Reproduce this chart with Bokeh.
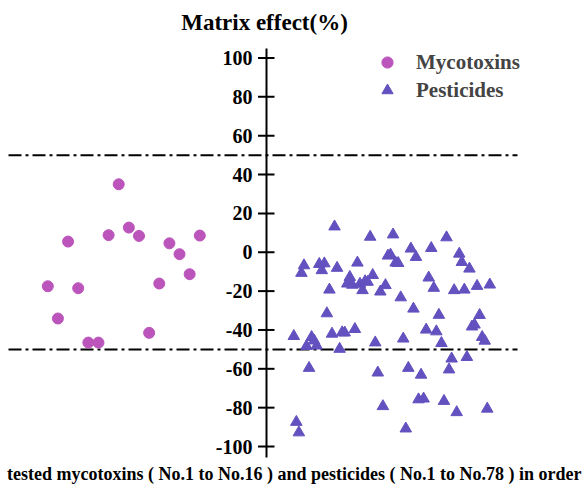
from bokeh.plotting import figure
from bokeh.models import Range1d, Legend, LegendItem, ColumnDataSource
from bokeh.embed import file_html
from bokeh.resources import INLINE
from bokeh.core.properties import value

# ---------------- data ----------------
mycotoxin_values = [-17.5, -34.1, 5.5, -18.5, -46.5, -46.5, 8.8, 35.0,
                    12.7, 8.4, -41.5, -16.1, 4.6, -1.0, -11.3, 8.6]
pesticide_values = [-43.2, -87.4, -92.8, -10.7, -6.8, -48.3, -59.6, -43.7,
                    -45.5, -48.1, -6.1, -9.3, -5.8, -31.5, -19.3, -42.0,
                    13.2, -8.1, -49.8, -41.3, -41.4, -16.2, -12.8, -16.8,
                    -39.6, -5.4, -16.3, -19.6, -15.0, -15.3, 7.9, -11.8,
                    -46.5, -62.0, -20.3, -79.3, -17.0, -1.8, -1.3, 9.1,
                    -5.4, -5.6, -23.3, -44.5, -90.8, -59.6, 1.8, -29.1,
                    -2.5, -75.8, -63.1, -75.4, -39.9, -13.1, 2.1, -18.4,
                    -40.8, -32.3, -46.8, -76.6, 7.6, -60.4, -54.8, -19.6,
                    -82.4, -0.8, -5.1, -19.3, -54.0, -8.5, -38.3, -37.3,
                    -17.4, -32.4, -43.7, -45.6, -80.6, -16.7]
y_ticks = [-100, -80, -60, -40, -20, 0, 20, 40, 60, 80, 100]
y_tick_labels = [str(t) for t in y_ticks]
threshold_levels = [50, -50]
series_names = ["Mycotoxins", "Pesticides"]
title_text = "Matrix effect(%)"
x_label_text = "tested mycotoxins ( No.1 to No.16 ) and pesticides ( No.1 to No.78 ) in order"

# ---------------- styles / layout ----------------
W, H = 584, 487
MYCO_COLOR = "#BB55BB"
PEST_COLOR = "#6351BF"
FONT = value("Liberation Serif")
AXIS_X = 266          # main (screen-like) x coordinate of the value axis
AXIS_TOP, AXIS_BOTTOM = 104.9, -105.7
LINE_X0, LINE_X1 = 8, 517

myco_idx = list(range(1, len(mycotoxin_values) + 1))
pest_idx = list(range(1, len(pesticide_values) + 1))

p = figure(width=W, height=H, output_backend="svg", toolbar_location=None,
           x_range=Range1d(0, W), y_range=Range1d(-121.1, 129.6),
           x_axis_type=None, y_axis_type=None, min_border=0,
           outline_line_color=None)
p.grid.visible = False
p.extra_x_ranges = {"myco": Range1d(-3.668, 53.966),
                    "pest": Range1d(-114.22, 115.2)}

# threshold dash-dot lines
p.segment(x0=[LINE_X0] * len(threshold_levels), x1=[LINE_X1] * len(threshold_levels),
          y0=threshold_levels, y1=threshold_levels,
          line_color="black", line_width=2, line_dash="13 4 3 4")

# value axis (drawn in the middle of the plot)
p.segment(x0=[AXIS_X], x1=[AXIS_X], y0=[AXIS_BOTTOM], y1=[AXIS_TOP],
          line_color="black", line_width=2)
p.segment(x0=[AXIS_X - 8.5] * len(y_ticks), x1=[AXIS_X + 8] * len(y_ticks),
          y0=y_ticks, y1=y_ticks, line_color="black", line_width=2)
p.text(x=[AXIS_X - 14] * len(y_ticks), y=y_ticks, text=y_tick_labels,
       text_align="right", text_baseline="middle", text_font=FONT,
       text_font_style="bold", text_font_size="20px", text_color="black")

# data
src_m = ColumnDataSource(dict(x=myco_idx, y=mycotoxin_values))
src_p = ColumnDataSource(dict(x=pest_idx, y=pesticide_values))
r_m = p.scatter("x", "y", source=src_m, x_range_name="myco", marker="circle",
                size=11, fill_color=MYCO_COLOR, line_color=MYCO_COLOR)
r_p = p.scatter("x", "y", source=src_p, x_range_name="pest", marker="triangle",
                size=11.5, fill_color=PEST_COLOR, line_color=PEST_COLOR)

# titles
p.text(x=[AXIS_X - 2], y=[118.3], text=[title_text], text_align="center",
       text_baseline="middle", text_font=FONT, text_font_style="bold",
       text_font_size="23px", text_color="black")
p.text(x=[581], y=[-114.4], text=[x_label_text], text_align="right",
       text_baseline="middle", text_font=FONT, text_font_style="bold",
       text_font_size="18px", text_color="black")

legend = Legend(items=[LegendItem(label=series_names[0], renderers=[r_m]),
                       LegendItem(label=series_names[1], renderers=[r_p])],
                location=(373, 383), padding=0, margin=0, spacing=-4,
                glyph_width=28, glyph_height=28, label_standoff=15,
                label_text_font="Liberation Serif", label_text_font_style="bold",
                label_text_font_size="21px", border_line_alpha=0,
                background_fill_alpha=0)
p.add_layout(legend)

open("out.html", "w").write(file_html(p, INLINE))
